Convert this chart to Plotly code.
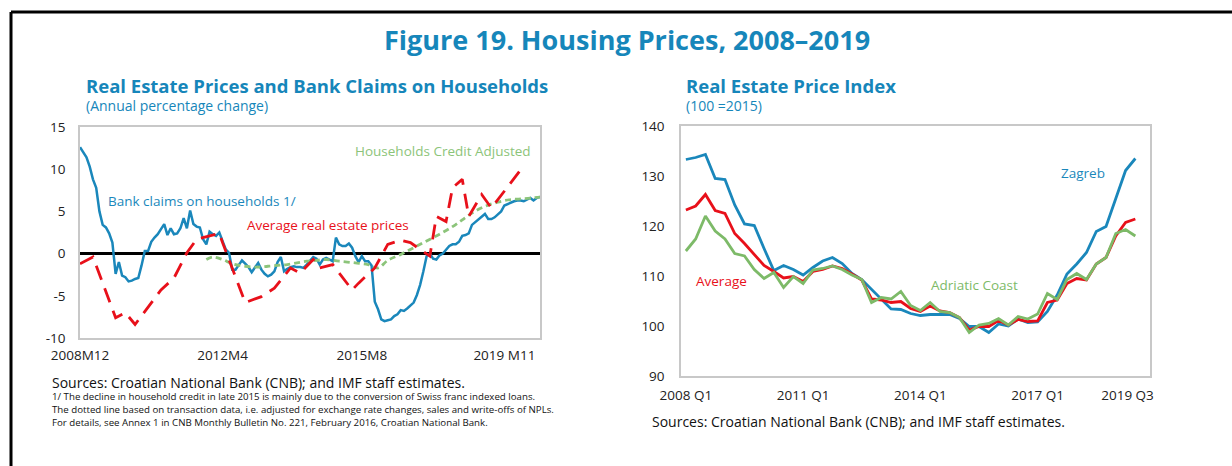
import plotly.graph_objects as go

# ---------------- Left panel data (monthly index, 0 = 2008M12) ----------------
claims_month = list(range(143))
bank_claims = [
    12.6, 12.0, 11.4, 10.3, 8.8, 7.8, 5.0, 3.4, 3.1, 2.4,
    1.3, -2.4, -1.0, -2.6, -2.8, -3.3, -3.2, -3.0, -2.9, -1.4,
    0.3, 0.3, 1.4, 1.9, 2.3, 2.9, 3.5, 2.2, 3.0, 2.3,
    2.4, 3.0, 4.2, 3.0, 5.1, 3.5, 3.2, 3.1, 1.7, 1.1,
    2.6, 2.3, 2.1, 2.5, 1.5, 0.5, 0.1, -1.9, -1.9, -1.3,
    -0.8, -1.2, -1.6, -2.2, -1.6, -1.1, -1.9, -2.4, -2.7, -2.5,
    -2.1, -1.0, -0.4, -2.1, -1.8, -1.6, -1.5, -1.6, -1.6, -1.7,
    -1.3, -0.9, -0.4, -0.6, -1.3, -0.7, -0.5, -0.7, -0.9, 1.9,
    1.1, 0.9, 0.9, 1.2, 0.7, -0.3, -1.0, -0.3, -0.9, -0.9,
    -1.4, -5.7, -6.6, -7.8, -8.0, -7.9, -7.8, -7.4, -7.2, -6.7,
    -6.8, -6.5, -6.2, -5.8, -4.9, -3.7, -2.1, -0.3, 0.0, -0.6,
    -0.7, -0.2, 0.0, 0.4, 0.9, 1.1, 1.1, 1.4, 2.1, 2.2,
    2.4, 3.4, 3.7, 4.0, 4.3, 4.7, 4.1, 4.1, 4.3, 4.6,
    5.0, 5.7, 5.9, 6.1, 6.2, 6.3, 6.3, 6.2, 6.4, 6.6,
    6.3, 6.6, 6.7,
]

price_month = [0, 4, 11, 14, 17, 21, 25, 29, 33, 36, 40, 43, 44, 51, 56, 60, 65, 68,
               72, 74, 78, 84, 86, 91, 95, 99, 102, 108, 110, 113, 115, 118, 120,
               124, 127, 136]
avg_prices = [-1.2, -0.4, -7.6, -7.0, -8.4, -6.3, -4.3, -2.9, 0.1, 1.7, 2.1, 2.4, 1.3,
              -5.8, -5.1, -4.1, -1.7, -2.3, -0.7, -1.7, -1.3, -4.3, -3.5, -1.7, 1.1,
              1.6, 1.3, -0.3, 4.4, 3.8, 7.8, 8.8, 4.4, 7.0, 5.4, 9.9]

credit_month = [39, 41, 44, 47, 51, 55, 58, 61, 64, 67, 70, 73, 76, 80, 85, 89, 92, 95,
                99, 103, 107, 111, 115, 118, 121, 125, 129, 133, 137, 142]
credit_adj = [-0.7, -0.4, -0.7, -1.2, -1.5, -1.6, -1.5, -1.4, -1.3, -1.1, -0.9, -0.8,
              -0.7, -0.9, -1.1, -1.3, -1.7, -0.8, -0.1, 0.7, 1.5, 2.3, 3.2, 4.0, 4.8,
              5.6, 6.1, 6.4, 6.5, 6.7]

left_tick_pos = [0, 44, 87, 131]
left_tick_text = ["2008M12", "2012M4", "2015M8", "2019 M11"]
left_tick_marks = [26, 52, 78, 104, 130]
left_y_vals = [-10, -5, 0, 5, 10, 15]
left_y_text = ["-10", "-5", "0", "5", "10", "15"]

# ---------------- Right panel data (quarterly, 0 = 2008 Q1) ----------------
quarter_idx = list(range(47))
zagreb = [133.3, 133.7, 134.3, 129.5, 129.3, 124.2, 120.4, 120.1, 115.5, 111.1,
          112.1, 111.3, 110.2, 111.7, 113.0, 113.7, 112.5, 110.5, 109.3, 107.3,
          105.4, 103.4, 103.3, 102.5, 102.1, 102.3, 102.3, 102.3, 101.5, 99.9,
          99.9, 98.7, 100.4, 100.0, 101.4, 100.7, 100.8, 102.9, 106.2, 110.4,
          112.4, 114.7, 118.9, 119.9, 125.5, 131.1, 133.5]
average = [123.2, 124.0, 126.3, 123.1, 122.5, 118.5, 116.5, 114.4, 112.1, 110.9,
           109.6, 109.9, 108.9, 110.9, 111.3, 112.0, 111.5, 110.4, 109.2, 105.4,
           105.2, 104.7, 104.9, 103.5, 102.9, 104.0, 103.0, 102.7, 101.7, 99.2,
           99.9, 99.9, 101.1, 100.2, 101.3, 100.9, 101.0, 104.7, 105.2, 108.5,
           109.5, 109.2, 112.4, 113.7, 118.0, 120.7, 121.4]
adriatic = [115.0, 117.4, 122.0, 119.0, 117.4, 114.5, 114.0, 111.3, 109.5, 110.7,
            107.7, 109.9, 108.5, 111.2, 111.5, 112.0, 111.3, 110.2, 109.3, 104.7,
            105.7, 105.4, 106.9, 104.1, 103.1, 104.7, 102.9, 102.7, 101.7, 98.7,
            100.2, 100.5, 101.5, 100.2, 101.9, 101.4, 102.4, 106.5, 105.3, 109.3,
            110.5, 109.3, 112.4, 113.7, 118.5, 119.3, 118.0]

right_tick_pos = [0, 12, 24, 36, 45.2]
right_tick_text = ["2008 Q1", "2011 Q1", "2014 Q1", "2017 Q1", "2019 Q3"]
right_tick_marks = [23.5]

# ---------------- Styling ----------------
W, H = 1232, 466
BLUE = "#1a87bb"
RED = "#e8101a"
GREEN_L = "#8cc47a"
GREEN_R = "#7dba68"
TITLE_BLUE = "#1686ba"
FONT = "Open Sans"
FRAME = "#c8c8c8"


def px(x):
    return x / W


def py(y):
    return 1 - y / H


fig = go.Figure()

fig.add_trace(go.Scatter(x=claims_month, y=bank_claims, mode="lines",
                         line=dict(color=BLUE, width=2.5), xaxis="x", yaxis="y"))
fig.add_trace(go.Scatter(x=credit_month, y=credit_adj, mode="lines",
                         line=dict(color=GREEN_L, width=2.8, dash="6px,4px", shape="spline"),
                         xaxis="x", yaxis="y"))
fig.add_trace(go.Scatter(x=price_month, y=avg_prices, mode="lines",
                         line=dict(color=RED, width=2.8, dash="15px,9px"),
                         xaxis="x", yaxis="y"))

fig.add_trace(go.Scatter(x=quarter_idx, y=zagreb, mode="lines",
                         line=dict(color=BLUE, width=2.8), xaxis="x2", yaxis="y2"))
fig.add_trace(go.Scatter(x=quarter_idx, y=average, mode="lines",
                         line=dict(color=RED, width=2.8), xaxis="x2", yaxis="y2"))
fig.add_trace(go.Scatter(x=quarter_idx, y=adriatic, mode="lines",
                         line=dict(color=GREEN_R, width=2.8), xaxis="x2", yaxis="y2"))

tickfont = dict(family=FONT, size=13.5, color="#222222")

fig.update_layout(
    template="none",
    width=W, height=H, autosize=False,
    margin=dict(l=0, r=0, t=0, b=0, pad=0),
    paper_bgcolor="white", plot_bgcolor="white",
    showlegend=False,
    xaxis=dict(domain=[px(80), px(540)], range=[0, 142], anchor="y", automargin=False,
               tickmode="array", tickvals=left_tick_pos, ticktext=left_tick_text,
               ticks="", showgrid=False, zeroline=False, showline=True,
               linecolor=FRAME, linewidth=1.5, mirror=True, tickfont=tickfont,
               ticklabelstandoff=4),
    xaxis3=dict(overlaying="x", anchor="y", range=[0, 142], tickmode="array", automargin=False,
                tickvals=left_tick_marks, ticktext=[""] * len(left_tick_marks),
                ticks="inside", ticklen=5, tickcolor=FRAME, tickwidth=1.5,
                showgrid=False, zeroline=False, showline=False, side="bottom"),
    yaxis=dict(domain=[py(338), py(127)], range=[-10, 15], anchor="x", automargin=False,
               tickmode="array", tickvals=left_y_vals, ticktext=left_y_text,
               ticks="", showgrid=False, zeroline=True, zerolinecolor="black",
               zerolinewidth=2.5, showline=True, linecolor=FRAME, linewidth=1.5,
               mirror=True, tickfont=tickfont, ticklabelstandoff=10),
    xaxis2=dict(domain=[px(681), px(1150)], range=[-0.5, 47.5], anchor="y2", automargin=False,
                tickmode="array", tickvals=right_tick_pos, ticktext=right_tick_text,
                ticks="", showgrid=False, zeroline=False, showline=True,
                linecolor=FRAME, linewidth=1.5, mirror=True, tickfont=tickfont,
                ticklabelstandoff=6),
    xaxis4=dict(overlaying="x2", anchor="y2", range=[-0.5, 47.5], tickmode="array", automargin=False,
                tickvals=right_tick_marks, ticktext=[""] * len(right_tick_marks),
                ticks="inside", ticklen=5, tickcolor=FRAME, tickwidth=1.5,
                showgrid=False, zeroline=False, showline=False, side="bottom"),
    yaxis2=dict(domain=[py(376), py(126)], range=[90, 140], anchor="x2", automargin=False,
                tickmode="array", tickvals=[90, 100, 110, 120, 130, 140],
                ticks="", showgrid=False, zeroline=False, showline=True,
                linecolor=FRAME, linewidth=1.5, mirror=True, tickfont=tickfont,
                ticklabelstandoff=12),
)

# Frame lines (top and left)
fig.add_shape(type="line", xref="paper", yref="paper", x0=px(11), x1=1.0,
              y0=py(12), y1=py(12), line=dict(color="black", width=3))
fig.add_shape(type="line", xref="paper", yref="paper", x0=px(11), x1=px(11),
              y0=0, y1=py(12), line=dict(color="black", width=3))


def note(text, x, y, size, color, xanchor="left", bold=False):
    if bold:
        text = "<b>" + text + "</b>"
    fig.add_annotation(text=text, x=px(x), y=py(y), xref="paper", yref="paper",
                       xanchor=xanchor, yanchor="middle", showarrow=False,
                       font=dict(family=FONT, size=size, color=color))


note("Figure 19. Housing Prices, 2008–2019", 627, 40, 27, TITLE_BLUE, "center", True)
note("Real Estate Prices and Bank Claims on Households", 84, 86, 18.5, TITLE_BLUE, bold=True)
note("(Annual percentage change)", 84, 105, 14, TITLE_BLUE)
note("Real Estate Price Index", 684, 86, 18.5, TITLE_BLUE, bold=True)
note("(100 =2015)", 684, 105, 14, TITLE_BLUE)

# Series labels
note("Households Credit Adjusted", 533, 151, 13.5, GREEN_L, "right")
note("Bank claims on households 1/", 106, 201, 13.5, BLUE)
note("Average real estate prices", 245, 225, 13.5, RED)
note("Zagreb", 1083, 173, 13.5, BLUE, "center")
note("Average", 721, 281, 13.5, RED, "center")
note("Adriatic Coast", 974, 285, 13.5, GREEN_R, "center")

# Sources and footnotes
note("Sources: Croatian National Bank (CNB); and IMF staff estimates.", 50, 382, 14, "#111111")
note("1/ The decline in household credit in late 2015 is mainly due to the conversion of Swiss franc indexed loans.",
     50, 396, 9.7, "#111111")
note("The dotted line based on transaction data, i.e. adjusted for exchange rate changes, sales and write-offs of NPLs.",
     50, 409, 9.7, "#111111")
note("For details, see Annex 1 in CNB Monthly Bulletin No. 221, February 2016, Croatian National Bank.",
     50, 422, 9.7, "#111111")
note("Sources: Croatian National Bank (CNB); and IMF staff estimates.", 650, 421, 14, "#111111")

fig.write_html("out.html", config={"displayModeBar": False},
               post_script="document.body.style.margin='0px';")
